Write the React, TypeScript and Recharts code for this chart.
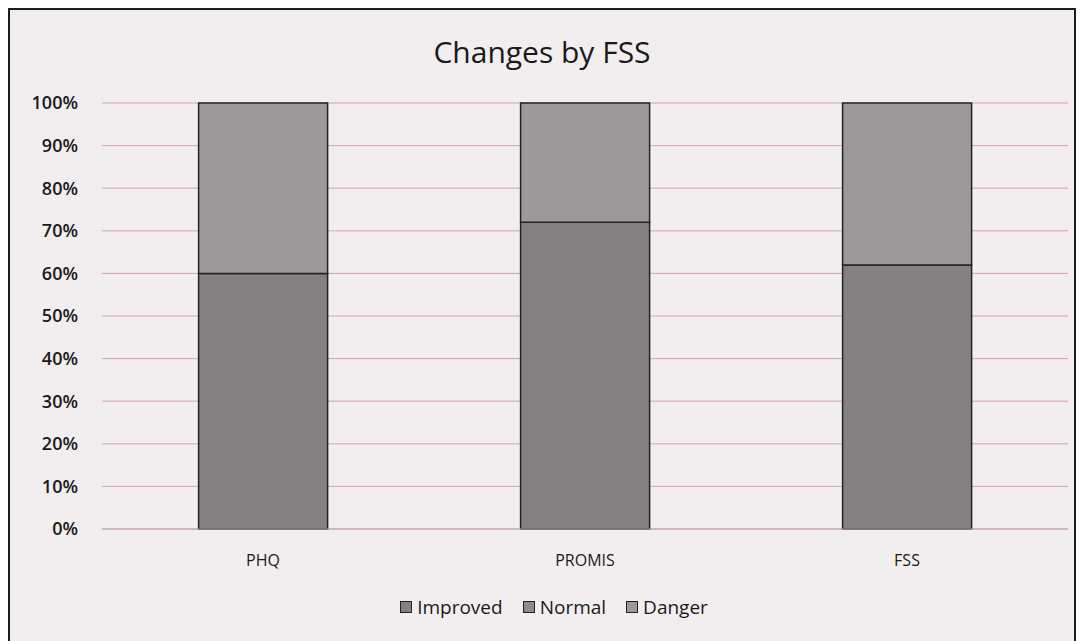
import React from 'react';
import { BarChart, Bar, XAxis, YAxis, CartesianGrid, Legend } from 'recharts';

// Valores (porcentaje de cada grupo)
const categories = ['PHQ', 'PROMIS', 'FSS'];
const improved = [60, 72, 62];
const normal = [0, 0, 0];
const danger = [40, 28, 38];
const yTicks = [0, 10, 20, 30, 40, 50, 60, 70, 80, 90, 100];

const SERIES = [
  { key: 'Improved', color: '#858183' },
  { key: 'Normal', color: '#8f8b8d' },
  { key: 'Danger', color: '#9d999a' },
];

const data = categories.map((name, i) => ({
  name,
  Improved: improved[i],
  Normal: normal[i],
  Danger: danger[i],
}));

const FONT = 'Open Sans, Lato, sans-serif';

function LegendContent() {
  return (
    <div style={{ display: 'flex', justifyContent: 'center', gap: 20, fontSize: 19, color: '#1a1a1a' }}>
      {SERIES.map((s) => (
        <span key={s.key} style={{ display: 'flex', alignItems: 'center', gap: 5 }}>
          <span
            style={{
              display: 'inline-block',
              width: 10,
              height: 10,
              background: s.color,
              border: '1.5px solid #222',
            }}
          />
          {s.key}
        </span>
      ))}
    </div>
  );
}

export default function App() {
  return (
    <div
      style={{
        position: 'relative',
        width: 1068,
        height: 640,
        border: '2px solid #1e1e1e',
        background: '#f2edee',
        fontFamily: FONT,
        boxSizing: 'border-box',
      }}
    >
      <div
        style={{
          position: 'absolute',
          top: 21,
          left: 0,
          width: '100%',
          textAlign: 'center',
          fontSize: 30,
          color: '#1a1a1a',
        }}
      >
        Changes by FSS
      </div>
      <BarChart
        width={1064}
        height={636}
        data={data}
        margin={{ top: 93, right: 6, bottom: 61, left: 30 }}
        barCategoryGap="30%"
      >
        <CartesianGrid vertical={false} stroke="#d6a3ab" strokeWidth={1} />
        <XAxis
          dataKey="name"
          axisLine={{ stroke: '#b9a9ab' }}
          tickLine={false}
          tickMargin={20}
          tick={{ fontSize: 16, fill: '#1a1a1a', fontFamily: FONT }}
        />
        <YAxis
          width={62}
          domain={[0, 100]}
          ticks={yTicks}
          tickFormatter={(v: number) => `${v}%`}
          axisLine={false}
          tickLine={false}
          tickSize={0}
          tickMargin={24}
          tick={{ fontSize: 18, fontWeight: 600, fill: '#1a1a1a', fontFamily: FONT }}
        />
        <Legend verticalAlign="bottom" content={<LegendContent />} wrapperStyle={{ bottom: 26 }} />
        {SERIES.map((s) => (
          <Bar
            key={s.key}
            dataKey={s.key}
            stackId="a"
            fill={s.color}
            stroke="#222"
            strokeWidth={1.5}
            isAnimationActive={false}
          />
        ))}
      </BarChart>
    </div>
  );
}
